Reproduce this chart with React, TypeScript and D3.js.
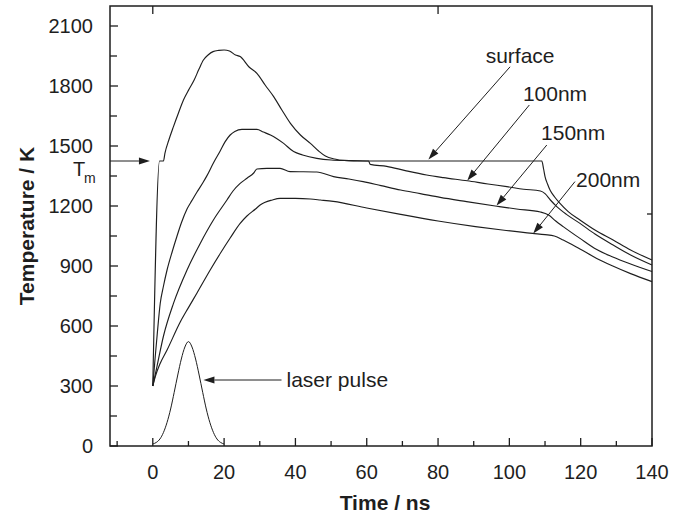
import React from "react";
import * as d3 from "d3";

// ---- data (time in ns, temperature in K) ----
const surface: [number, number][] = [
  [0, 300], [1.9, 1425], [3.0, 1425], [3.4, 1463], [4.5, 1530], [5.8, 1597], [7.2, 1665], [8.6, 1730],
  [10.2, 1785], [11.6, 1830], [12.9, 1882], [14.2, 1930], [15.5, 1955], [16.9, 1972], [18.5, 1978],
  [20, 1980], [21.5, 1975], [23.2, 1955], [24.5, 1947], [27, 1895], [29.2, 1863], [31.5, 1805],
  [33.9, 1747], [36.2, 1680], [38.6, 1613], [41.4, 1555], [44.2, 1513], [46.5, 1475], [48.4, 1450],
  [51, 1435], [53.7, 1428], [58.9, 1425], [109.1, 1425], [109.6, 1385], [110, 1347], [110.7, 1310],
  [111.4, 1280], [112.7, 1245], [114.2, 1213], [116.5, 1172], [119.8, 1130], [124, 1080],
  [129.1, 1030], [134, 980], [140, 930],
];

const nm100: [number, number][] = [
  [0, 300], [0.7, 450], [1.2, 550], [2.1, 715], [3, 800], [4, 880], [5.5, 975], [6.8, 1050],
  [8, 1115], [9.6, 1185], [11, 1228], [12.4, 1270], [14, 1315], [15.2, 1352], [17, 1415],
  [18.9, 1475], [20.3, 1522], [21.7, 1555], [23, 1573], [25, 1583], [29.2, 1583], [31, 1570],
  [33, 1555], [36.7, 1513], [39.5, 1472], [42, 1455], [46, 1438], [50, 1430], [55, 1427],
  [60.5, 1425], [61, 1408], [65.6, 1398], [70.8, 1377], [76.8, 1355], [81.5, 1342], [88.2, 1326],
  [94, 1310], [99.3, 1297], [104, 1284], [108.7, 1275], [110, 1262], [111.5, 1230], [113.3, 1197],
  [116, 1158], [119.8, 1113], [124, 1060], [129.1, 1005], [134, 955], [140, 905],
];

const nm150: [number, number][] = [
  [0, 300], [1.2, 400], [3, 550], [5.8, 713], [9.6, 880], [13.3, 1013], [17, 1130], [20.8, 1230],
  [22.5, 1275], [24.5, 1313], [26.5, 1340], [28.3, 1365], [29.2, 1385], [32, 1388], [35.7, 1388],
  [38.5, 1372], [46, 1370], [50.7, 1347], [55, 1335], [59, 1322], [64, 1302], [69.5, 1280],
  [75, 1262], [80.6, 1243], [88, 1222], [96.5, 1199], [102, 1185], [108.7, 1170], [111, 1155],
  [113, 1125], [115.1, 1097], [119.8, 1038], [124.5, 982], [129, 945], [134, 910], [140, 872],
];

const nm200: [number, number][] = [
  [0, 300], [0.7, 347], [2, 410], [4, 480], [7.7, 620], [10, 692], [12.4, 765], [16.1, 880],
  [19, 965], [21.7, 1040], [24.5, 1113], [26.4, 1150], [28.8, 1185], [30.1, 1205], [33.5, 1230],
  [35.7, 1238], [40, 1238], [44.2, 1235], [47, 1230], [50.6, 1223], [60, 1190], [69.5, 1158],
  [80, 1125], [90.5, 1097], [98, 1080], [106.5, 1063], [110, 1057], [112.6, 1050], [115.1, 1030],
  [119.8, 985], [124.5, 938], [129, 900], [134, 862], [140, 822],
];

const laserPulse: [number, number][] = [
  [0, 10], [1, 18], [2, 35], [3, 68], [4, 118], [5, 185], [6, 268], [7, 355], [8, 435], [9, 495],
  [10, 522], [11, 495], [12, 435], [13, 355], [14, 268], [15, 185], [16, 118], [17, 68], [18, 35],
  [19, 18], [20, 10],
];

const xTickLabels = [0, 20, 40, 60, 80, 100, 120, 140];
const xMinorTicks = [-10, 10, 30, 50, 70, 90, 110, 130];
const yTickLabels = [0, 300, 600, 900, 1200, 1500, 1800, 2100];
const yMinorTicks = [150, 450, 750, 1050, 1350, 1650, 1950];
const topTicks = [0, 80];
const rightTicks = [1160];
const meltingT = 1425;

// annotations: label anchor (baseline centre), arrow start, arrow tip (all in data units)
const annotations = [
  { text: "surface", lx: 103, lT: 1916, ax: 100.2, aT: 1896, tx: 77.3, tT: 1433 },
  { text: "100nm", lx: 112.8, lT: 1725, ax: 105.6, aT: 1705, tx: 88.2, tT: 1328 },
  { text: "150nm", lx: 117.9, lT: 1530, ax: 110.5, aT: 1505, tx: 96.4, tT: 1202 },
  { text: "200nm", lx: 127.7, lT: 1297, ax: 118.4, aT: 1322, tx: 106.7, tT: 1062 },
];

const FONT = "'Liberation Sans', Arial, Helvetica, sans-serif";
const INK = "#1e1e1e";

function Arrow({ x1, y1, x2, y2 }: { x1: number; y1: number; x2: number; y2: number }) {
  const ang = Math.atan2(y2 - y1, x2 - x1);
  const L = 11, W = 3.6;
  const bx = x2 - L * Math.cos(ang), by = y2 - L * Math.sin(ang);
  const px = -Math.sin(ang) * W, py = Math.cos(ang) * W;
  return (
    <g>
      <line x1={x1} y1={y1} x2={bx} y2={by} stroke={INK} strokeWidth={1} />
      <polygon points={`${x2},${y2} ${bx + px},${by + py} ${bx - px},${by - py}`} fill={INK} />
    </g>
  );
}

export default function App() {
  const X = d3.scaleLinear().domain([-12, 140]).range([110, 652]);
  const Y = d3.scaleLinear().domain([0, 2200]).range([446, 6]);
  const line = d3
    .line<[number, number]>()
    .x((d) => X(d[0]))
    .y((d) => Y(d[1]))
    .curve(d3.curveMonotoneX);

  const x0 = X.range()[0], x1 = X.range()[1];
  const y0 = Y.range()[0], y1 = Y.range()[1];

  return (
    <svg
      width={689}
      height={519}
      style={{ position: "absolute", left: 0, top: 0, background: "#fff" }}
      fontFamily={FONT}
    >
      <rect x={0} y={0} width={689} height={519} fill="#fff" />
      {/* curves */}
      {[surface, nm100, nm150, nm200].map((s, i) => (
        <path key={i} d={line(s) || ""} fill="none" stroke={INK} strokeWidth={1.15} />
      ))}
      <path d={line(laserPulse) || ""} fill="none" stroke={INK} strokeWidth={1} />

      {/* frame */}
      <rect x={x0} y={y1} width={x1 - x0} height={y0 - y1} fill="none" stroke={INK} strokeWidth={1.5} />

      {/* bottom ticks */}
      {xTickLabels.map((t) => (
        <g key={"xt" + t}>
          <line x1={X(t)} x2={X(t)} y1={y0} y2={y0 - 8} stroke={INK} strokeWidth={1.3} />
          <text x={X(t)} y={479} fontSize={20} textAnchor="middle" fill={INK}>
            {t}
          </text>
        </g>
      ))}
      {xMinorTicks.map((t) => (
        <line key={"xm" + t} x1={X(t)} x2={X(t)} y1={y0} y2={y0 - 5} stroke={INK} strokeWidth={1.3} />
      ))}
      {topTicks.map((t) => (
        <line key={"tt" + t} x1={X(t)} x2={X(t)} y1={y1} y2={y1 + 8} stroke={INK} strokeWidth={1.3} />
      ))}
      {rightTicks.map((v) => (
        <line key={"rt" + v} x1={x1} x2={x1 - 5} y1={Y(v)} y2={Y(v)} stroke={INK} strokeWidth={1.3} />
      ))}

      {/* left ticks */}
      {yTickLabels.map((v) => (
        <g key={"yt" + v}>
          <line x1={x0} x2={x0 + 8} y1={Y(v)} y2={Y(v)} stroke={INK} strokeWidth={1.3} />
          <text x={93} y={Y(v) + 7} fontSize={20} textAnchor="end" fill={INK}>
            {v}
          </text>
        </g>
      ))}
      {yMinorTicks.map((v) => (
        <line key={"ym" + v} x1={x0} x2={x0 + 7} y1={Y(v)} y2={Y(v)} stroke={INK} strokeWidth={1.3} />
      ))}

      {/* melting point marker */}
      <Arrow x1={x0} y1={Y(meltingT)} x2={X(-0.8)} y2={Y(meltingT)} />
      <text x={73} y={176} fontSize={20} fill={INK}>
        T
      </text>
      <text x={84} y={183} fontSize={14} fill={INK}>
        m
      </text>

      {/* annotations */}
      {annotations.map((a) => (
        <g key={a.text}>
          <text x={X(a.lx)} y={Y(a.lT)} fontSize={21} textAnchor="middle" fill={INK}>
            {a.text}
          </text>
          <Arrow x1={X(a.ax)} y1={Y(a.aT)} x2={X(a.tx)} y2={Y(a.tT)} />
        </g>
      ))}
      <text x={X(37.5)} y={Y(297)} fontSize={21} fill={INK}>
        laser pulse
      </text>
      <Arrow x1={X(36.1)} y1={Y(330)} x2={X(14.2)} y2={Y(330)} />

      {/* axis titles */}
      <text x={385} y={510} fontSize={21} fontWeight="bold" textAnchor="middle" fill={INK}>
        Time / ns
      </text>
      <text
        transform="translate(34,226) rotate(-90)"
        fontSize={21}
        fontWeight="bold"
        textAnchor="middle"
        fill={INK}
      >
        Temperature / K
      </text>
    </svg>
  );
}
